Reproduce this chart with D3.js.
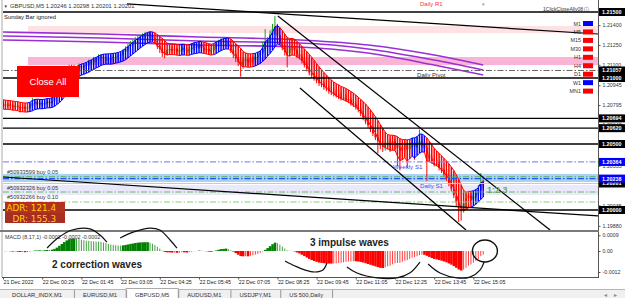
<!DOCTYPE html>
<html>
<head>
<meta charset="utf-8">
<script src="https://cdn.jsdelivr.net/npm/d3@7"></script>
<style>
  body { margin: 0; background: #fff; }
  svg { display: block; font-family: "Liberation Sans", Arial, sans-serif; }
</style>
</head>
<body>
<div id="chart"></div>
<script>
// prices are in pips above 1.20000, one entry per 5 minute bar (21 Dec 23:05 -> 22 Dec 15:25)
const closes = [
  80,79,80,79,78,79,78,77,78,77,78,79,
  81,82,80,81,80,81,82,81,83,
  86,90,95,99,
  103,106,108,107,108,107,109,108,
  109,110,112,112,114,114,116,116,
  115,115,114,115,116,116,117,118,
  120,122,124,126,127,129,130,131,
  132,133,134,132,130,128,
  124,122,119,118,121,122,
  121,122,120,121,123,121,120,122,123,
  124,123,125,123,121,122,120,121,
  124,126,127,128,127,128,125,
  121,118,115,112,110,
  113,114,112,115,114,116,117,
  119,122,126,129,133,137,139,132,
  127,123,120,119,123,124,121,118,
  116,113,110,107,104,102,100,98,
  96,95,93,92,90,89,88,87,
  86,85,85,84,83,81,80,78,
  76,73,70,67,64,61,58,55,52,
  49,48,50,51,49,52,50,
  47,45,48,49,46,50,51,48,50,52,50,47,
  42,39,37,35,35,32,30,27,
  24,20,16,11,6,1,-1,5,
  9,11,8,11,13,15,21,19
];
const highs = [
  82,81,81,81,80,80,80,79,79,79,80,81,
  85,84,83,82,82,83,84,83,85,
  88,92,97,101,
  105,108,110,110,110,109,111,111,
  111,112,114,114,116,116,118,118,
  118,117,117,117,118,118,119,120,
  122,124,126,128,129,131,132,133,
  134,135,135,135,133,131,
  128,125,123,121,122,124,
  124,124,123,123,125,124,123,124,126,
  127,126,128,126,124,124,123,123,
  126,128,129,130,130,130,129,
  126,122,119,116,113,
  115,116,115,117,117,118,120,
  121,128,137,131,136,141,147,141,
  133,129,125,123,126,129,126,122,
  120,118,115,112,109,106,104,102,
  100,99,97,96,94,93,92,91,
  91,89,90,88,87,85,84,82,
  80,78,75,72,69,66,63,60,57,
  54,52,52,53,54,55,54,
  52,49,50,52,51,53,55,54,56,61,56,52,
  49,44,41,39,38,37,34,31,
  29,26,22,18,13,8,3,7,
  12,14,13,14,16,19,28,23
];
const lows = [
  78,77,78,77,76,77,76,74,76,75,76,77,
  78,80,79,79,78,79,80,79,80,
  82,85,89,94,
  98,102,104,105,105,105,105,106,
  106,107,108,110,110,112,112,114,
  113,113,112,112,113,114,114,115,
  116,118,120,122,124,125,127,128,
  129,130,131,130,129,126,
  122,119,116,115,117,120,
  119,119,118,118,120,119,118,119,121,
  121,121,122,120,119,119,118,118,
  120,122,124,125,125,125,123,
  119,115,112,109,101,
  107,110,109,110,111,112,114,
  115,118,120,124,127,131,133,130,
  125,121,117,108,117,121,118,115,
  114,111,108,105,102,100,98,96,
  94,93,91,90,88,87,86,85,
  84,83,83,82,81,79,78,76,
  74,71,68,65,62,59,56,53,43,
  46,44,45,46,44,47,46,
  33,30,41,45,32,45,47,38,47,49,48,45,
  22,37,35,33,33,30,28,25,
  22,18,14,9,3,-9,-8,-2,
  3,6,5,7,9,12,14,16
];

const timeTickBars = [0,16,32,48,64,80,96,112,128,144,160,176,192];
const timeLabels = ["21 Dec 2022","22 Dec 00:25","22 Dec 01:45","22 Dec 03:05","22 Dec 04:25","22 Dec 05:45",
  "22 Dec 07:05","22 Dec 08:25","22 Dec 09:45","22 Dec 11:05","22 Dec 12:25","22 Dec 13:45","22 Dec 15:05"];

// three purple moving averages, sampled at these bars
const maBars = [0, 40, 80, 121, 149, 176, 196];
const maUpper = [1.21348, 1.21333, 1.21311, 1.21288, 1.21250, 1.21174, 1.21098];
const maMiddle = [1.21318, 1.21303, 1.21280, 1.21265, 1.21220, 1.21136, 1.21061];
const maLower = [1.21288, 1.21273, 1.21250, 1.21235, 1.21189, 1.21098, 1.21023];

// trend lines: [bar, price] -> [bar, price]
const trendLines = [
  [[50.6, 1.21561], [243, 1.21333]],
  [[0, 1.20250], [243, 1.19955]],
  [[112.2, 1.21470], [223.3, 1.19848]],
  [[121.2, 1.20924], [189, 1.19848]]
];

const blackLevels = [1.21500, 1.21000, 1.20694, 1.20620, 1.20500, 1.20000];
const pivotLevel = 1.21057;
const weeklyS1 = 1.20364;
const dailyS1 = 1.20238;
const bidLevel = 1.20201;
const orderPrices = [1.20252, 1.20136, 1.20061];
const orderLabels = ["#50933599 buy 0.05", "#50932326 buy 0.05", "#50932266 buy 0.10"];
const pinkZones = [[1.21394, 1.21341], [1.21159, 1.21098]];
const blueZone = [1.20273, 1.20212];
const lavenderZone = [1.20189, 1.20114];
const zoneStartBar = 10.2;

const priceTicks = [1.21400, 1.21250, 1.21100, 1.20945, 1.20795, 1.20648, 1.20335, 1.20035, 1.19880];
const blackBoxes = [1.21500, 1.21057, 1.21000, 1.20694, 1.20620, 1.20500, 1.20201, 1.20000];
const blueBoxes = [1.20364, 1.20238];
const macdTicks = [0.0009, 0, -0.0012];
const macdTickLabels = ["0.0009", "0.00", "-0.0012"];

const tfNames = ["M1","M5","M15","M30","H1","H4","D1","W1","MN1"];
const tfUp = [true,false,false,false,false,false,false,true,false];

const tabNames = ["DOLLAR_INDX,M1","EURUSD,M1","GBPUSD,M5","AUDUSD,M1","USDJPY,M1","US 500,Daily"];
const activeTab = 2;

// hand drawn wave marks on the MACD window: [bar, macd value]
const arcA = [[18,0.00017],[22.4,0.00074],[28.2,0.0012],[35.5,0.00126],[39.6,0.00091],[42.4,0.00051]];
const arcB = [[47.8,0.00074],[53.4,0.00109],[60,0.00131],[64,0.0012],[68.2,0.00063],[71,0.00017]];
const arcC = [[115.1,-0.00057],[119.2,-0.00086],[123.3,-0.00109],[127.3,-0.0012],[130.6,-0.00109],[132.2,-0.00069]];
const arcD = [[140.4,-0.00091],[144.5,-0.00126],[152.7,-0.00154],[160.8,-0.00154],[166,-0.00126],[170.2,-0.00063]];
const arcE = [[173.5,-0.00074],[178.4,-0.00126],[185.3,-0.00154],[190.6,-0.00149],[194.7,-0.00109],[196.4,-0.00063]];
const circleMark = [196.7, 0];

/*********************** Setup *********************/
var W = 625, H = 298;
var plotLeft = 3, plotRight = 598;
var mainBottom = 230, macdTop = 232, macdBottom = 277;
var barStep = 2.45;
var ribbonPad = 2;

var price = function (p) { return 1.2 + p / 10000; };

var x = d3.scaleLinear().domain([0, 1]).range([plotLeft, plotLeft + barStep]);
var y = d3.scaleLinear().domain([1.2, 1.215]).range([210, 12]);
var yM = d3.scaleLinear().domain([-0.0012, 0.0009]).range([272, 235.25]);

function ema(arr, n) {
  var k = 2 / (n + 1), out = [];
  arr.forEach(function (v, i) { out.push(i ? out[i - 1] + k * (v - out[i - 1]) : v); });
  return out;
}

var bars = closes.map(function (c, i) {
  var o = i ? closes[i - 1] : c;
  return { i: i, o: o, c: c, h: Math.max(highs[i], o, c), l: Math.min(lows[i], o, c) };
});

// heiken ashi smoothed ribbon
var sO = ema(bars.map(d => d.o), 6), sH = ema(bars.map(d => d.h), 6),
    sL = ema(bars.map(d => d.l), 6), sC = ema(bars.map(d => d.c), 6);
var haC = sO.map((o, i) => (o + sH[i] + sL[i] + sC[i]) / 4);
var haO = [];
haC.forEach(function (c, i) { haO.push(i ? (haO[i - 1] + haC[i - 1]) / 2 : (sO[0] + sC[0]) / 2); });
var ribbon = bars.map(function (d, i) {
  return { i: i, top: Math.max(sH[i], haO[i]), bot: Math.min(sL[i], haO[i]), up: haC[i] >= haO[i] };
});

// MACD (8,17,1)
var e8 = ema(closes.map(price), 8), e17 = ema(closes.map(price), 17);
var macd = e8.map((v, i) => v - e17[i]);
var strongBar = macd.map((d, i) => i === 0 ? true : (d >= 0 ? d >= macd[i - 1] : d < macd[i - 1]));

var svg = d3.select("#chart").append("svg")
  .attr("width", W).attr("height", H);

svg.append("rect").attr("width", W).attr("height", H).attr("fill", "#fff");

var defs = svg.append("defs");
defs.append("clipPath").attr("id", "clipMain").append("rect")
  .attr("x", plotLeft).attr("y", 0).attr("width", plotRight - plotLeft).attr("height", mainBottom);
defs.append("clipPath").attr("id", "clipMacd").append("rect")
  .attr("x", plotLeft).attr("y", macdTop).attr("width", plotRight - plotLeft).attr("height", macdBottom - macdTop);

var main = svg.append("g").attr("clip-path", "url(#clipMain)");

/*********************** Zones *********************/
var zoneColors = ["#fde1e3", "#f8b5d6"];
pinkZones.forEach(function (z, k) {
  main.append("rect")
    .attr("x", x(zoneStartBar)).attr("y", y(z[0]))
    .attr("width", plotRight - x(zoneStartBar)).attr("height", y(z[1]) - y(z[0]))
    .attr("fill", zoneColors[k]);
});
main.append("rect")
  .attr("x", plotLeft).attr("y", y(blueZone[0]))
  .attr("width", plotRight - plotLeft).attr("height", y(blueZone[1]) - y(blueZone[0]))
  .attr("fill", "#a9d3f5");
main.append("rect")
  .attr("x", plotLeft).attr("y", y(lavenderZone[0]))
  .attr("width", plotRight - plotLeft).attr("height", y(lavenderZone[1]) - y(lavenderZone[0]))
  .attr("fill", "#e9e9fb");

/*********************** MAs *********************/
var maLine = d3.line().x((d, k) => x(maBars[k])).y(d => y(d)).curve(d3.curveMonotoneX);
[maUpper, maMiddle, maLower].forEach(function (arr) {
  main.append("path").datum(arr).attr("d", maLine)
    .attr("fill", "none").attr("stroke", "#9a2fd6").attr("stroke-width", 1.6);
});

/*********************** Candles *********************/
var candle = main.append("g");
candle.selectAll("line.wick").data(bars).enter().append("line")
  .attr("x1", d => x(d.i)).attr("x2", d => x(d.i))
  .attr("y1", d => y(price(d.h))).attr("y2", d => y(price(d.l)))
  .attr("stroke", d => d.c >= d.o ? "#1e9e1e" : "#ff0000").attr("stroke-width", 1);
candle.selectAll("rect").data(bars).enter().append("rect")
  .attr("x", d => x(d.i) - 0.9).attr("width", 1.8)
  .attr("y", d => y(price(Math.max(d.o, d.c))))
  .attr("height", d => Math.max(0.8, y(price(Math.min(d.o, d.c))) - y(price(Math.max(d.o, d.c)))))
  .attr("fill", d => d.c >= d.o ? "#1e9e1e" : "#ff0000");

/*********************** Ribbon *********************/
var rib = main.append("g");
rib.selectAll("line").data(ribbon).enter().append("line")
  .attr("x1", d => x(d.i)).attr("x2", d => x(d.i))
  .attr("y1", d => y(price(d.top)) - ribbonPad).attr("y2", d => y(price(d.bot)) + ribbonPad)
  .attr("stroke", d => d.up ? "#0000ff" : "#ff0000").attr("stroke-width", 1.5);
ribbon.slice(1).forEach(function (d) {
  var p = ribbon[d.i - 1], col = d.up ? "#0000ff" : "#ff0000";
  rib.append("line").attr("x1", x(p.i)).attr("x2", x(d.i))
    .attr("y1", y(price(p.top)) - ribbonPad).attr("y2", y(price(d.top)) - ribbonPad).attr("stroke", col).attr("stroke-width", 1);
  rib.append("line").attr("x1", x(p.i)).attr("x2", x(d.i))
    .attr("y1", y(price(p.bot)) + ribbonPad).attr("y2", y(price(d.bot)) + ribbonPad).attr("stroke", col).attr("stroke-width", 1);
});

/*********************** Levels *********************/
function hline(p, color, dash, w) {
  main.append("line").attr("x1", plotLeft).attr("x2", plotRight)
    .attr("y1", y(p)).attr("y2", y(p))
    .attr("stroke", color).attr("stroke-width", w || 1)
    .attr("stroke-dasharray", dash || null);
}
blackLevels.forEach(p => hline(p, "#000", null, 1.3));
hline(pivotLevel, "#666", "6,2,1.5,2", 1);
hline(weeklyS1, "#8f8ff5", "6,2,1.5,2", 1.2);
hline(bidLevel, "#c8c8c8", null, 1);
hline(orderPrices[0], "#55b055", "6,2,1.5,2", 1.2);
hline(dailyS1, "#2255ff", "6,2,1.5,2", 1.2);
hline(orderPrices[1], "#66bb66", "6,2,1.5,2", 1.1);
hline(orderPrices[2], "#88cc88", "6,2,1.5,2", 1.1);

/*********************** Trend lines *********************/
trendLines.forEach(function (t) {
  main.append("line")
    .attr("x1", x(t[0][0])).attr("y1", y(t[0][1]))
    .attr("x2", x(t[1][0])).attr("y2", y(t[1][1]))
    .attr("stroke", "#000").attr("stroke-width", 1.2);
});

/*********************** Labels on chart *********************/
function txt(g, tx, ty, s, size, color, extra) {
  var t = g.append("text").attr("x", tx).attr("y", ty).text(s)
    .style("font-size", size + "px").attr("fill", color);
  if (extra) extra(t);
  return t;
}
txt(svg, x(169), y(pivotLevel) + 6.5, "Daily Pivot", 6, "#333");
txt(svg, x(159.2), y(weeklyS1) + 7, "Weekly S1", 6.2, "#3a4ee8");
txt(svg, x(170.2), y(dailyS1) + 9, "Daily S1", 6.2, "#3a4ee8");
txt(svg, x(197.6), y(orderPrices[1]) + 1, "1:2.3", 9, "#66aa66", t => t.style("font-weight", "bold"));
orderLabels.forEach(function (s, k) {
  txt(svg, 7, y(orderPrices[k]) - 2.5, s, 5.6, "#333");
});

// Close All button
svg.append("rect").attr("x", 17).attr("y", 66).attr("width", 62).attr("height", 31).attr("fill", "#ff0000");
txt(svg, 48, 85, "Close All", 9.5, "#fff", t => t.attr("text-anchor", "middle"));

// ADR box
svg.append("rect").attr("x", 5).attr("y", 202).attr("width", 60).attr("height", 11).attr("fill", "#b3321f");
svg.append("rect").attr("x", 5).attr("y", 213).attr("width", 60).attr("height", 10).attr("fill", "#a52d22");
txt(svg, 56, 211, "ADR: 121.4", 8.8, "#ffd200", t => t.attr("text-anchor", "end").style("font-family", "DejaVu Sans"));
txt(svg, 56, 221.5, "DR: 155.3", 8.8, "#ffd200", t => t.attr("text-anchor", "end").style("font-family", "DejaVu Sans"));

/*********************** Header *********************/
txt(svg, 3.5, 8, "\u25BC", 4.5, "#444");
txt(svg, 10, 8, "GBPUSD,M5  1.20246 1.20298 1.20201 1.20201", 5.8, "#333");
txt(svg, 4, 19, "Sunday Bar ignored", 5.9, "#222");
txt(svg, 420, 6, "Daily R1", 6, "#ff3030");
txt(svg, 481, 6, "\u25BC", 4.5, "#999");
txt(svg, 543, 10.5, "1ClickCloseAllv08 \u24D8", 5, "#333");

// timeframe legend
tfNames.forEach(function (s, k) {
  var ty = 23.5 + k * 8.45;
  txt(svg, 581, ty + 2, s, 5.4, "#333", t => t.attr("text-anchor", "end"));
  svg.append("rect").attr("x", 583).attr("y", ty - 2.5).attr("width", 10).attr("height", 5)
    .attr("fill", tfUp[k] ? "#0000ff" : "#ff0000");
});

/*********************** Price axis *********************/
svg.append("line").attr("x1", plotRight + 0.5).attr("x2", plotRight + 0.5)
  .attr("y1", 0).attr("y2", macdBottom).attr("stroke", "#555");
svg.append("line").attr("x1", 2).attr("x2", 2).attr("y1", 0).attr("y2", macdBottom).attr("stroke", "#aaa");

var yAxis = d3.axisRight(y).tickValues(priceTicks).tickFormat(d3.format(".5f")).tickSize(2);
var ya = svg.append("g").attr("transform", "translate(" + (plotRight + 0.5) + ",0)").call(yAxis);
ya.select(".domain").remove();
ya.selectAll("text").style("font-size", "5.3px").attr("fill", "#333").attr("x", 4);
ya.selectAll("line").attr("stroke", "#555");

function priceBox(p, fill) {
  var g = svg.append("g").attr("transform", "translate(" + (plotRight + 1) + "," + y(p) + ")");
  g.append("rect").attr("x", 0).attr("y", -4).attr("width", 27).attr("height", 8).attr("fill", fill);
  g.append("text").attr("x", 3).attr("y", 2).attr("fill", "#fff")
    .style("font-size", "5.4px").style("font-weight", "bold").text(d3.format(".5f")(p));
}
blackBoxes.forEach(p => priceBox(p, "#000"));
blueBoxes.forEach(p => priceBox(p, "#0000ff"));

/*********************** MACD *********************/
svg.append("rect").attr("x", 0).attr("y", mainBottom).attr("width", plotRight + 1).attr("height", macdTop - mainBottom)
  .attr("fill", "#7a7a7a");
svg.append("line").attr("x1", 2).attr("x2", plotRight + 1).attr("y1", macdBottom + 0.5).attr("y2", macdBottom + 0.5)
  .attr("stroke", "#555");

var mg = svg.append("g").attr("clip-path", "url(#clipMacd)");
mg.selectAll("rect").data(macd).enter().append("rect")
  .attr("x", (d, i) => x(i) - (strongBar[i] ? barStep / 2 : 0.5))
  .attr("width", (d, i) => strongBar[i] ? barStep + 0.1 : 1)
  .attr("y", d => Math.min(yM(d), yM(0)))
  .attr("height", d => Math.abs(yM(d) - yM(0)))
  .attr("fill", d => d >= 0 ? "#008000" : "#ff0000")
  .attr("opacity", (d, i) => strongBar[i] ? 1 : 0.75);

var ym = svg.append("g").attr("transform", "translate(" + (plotRight + 0.5) + ",0)")
  .call(d3.axisRight(yM).tickValues(macdTicks).tickFormat((d, k) => macdTickLabels[k]).tickSize(2));
ym.select(".domain").remove();
ym.selectAll("text").style("font-size", "5.3px").attr("fill", "#333").attr("x", 4);
ym.selectAll("line").attr("stroke", "#555");

txt(svg, 5, 239, "MACD (8,17,1) -0.0002 -0.0002 -0.0002", 5.4, "#333");

// wave annotations
var arcLine = d3.line().x(d => x(d[0])).y(d => yM(d[1])).curve(d3.curveCatmullRom);
[arcA, arcB, arcC, arcD, arcE].forEach(function (a) {
  svg.append("path").datum(a).attr("d", arcLine)
    .attr("fill", "none").attr("stroke", "#111").attr("stroke-width", 1.2);
});
svg.append("ellipse").attr("cx", x(circleMark[0])).attr("cy", yM(circleMark[1]))
  .attr("rx", 12.5).attr("ry", 11).attr("fill", "none").attr("stroke", "#111").attr("stroke-width", 1.4);

txt(svg, 52, 268, "2 correction waves", 10, "#222", t => t.style("font-weight", "bold"));
txt(svg, 310, 246, "3 impulse waves", 10, "#222", t => t.style("font-weight", "bold"));

/*********************** Time axis *********************/
var xAxis = d3.axisBottom(x).tickValues(timeTickBars).tickFormat((d, k) => timeLabels[k]).tickSize(2);
var xa = svg.append("g").attr("transform", "translate(0," + (macdBottom + 0.5) + ")").call(xAxis);
xa.select(".domain").remove();
xa.selectAll("text").style("font-size", "5.3px").attr("fill", "#222")
  .attr("text-anchor", "start").attr("y", 3).attr("dy", "0.71em").attr("x", 0);
xa.selectAll("line").attr("stroke", "#555");

/*********************** Tabs *********************/
var tabs = svg.append("g");
tabs.append("rect").attr("x", 0).attr("y", 289).attr("width", W).attr("height", 9).attr("fill", "#f0f0f0");
tabs.append("line").attr("x1", 0).attr("x2", W).attr("y1", 289.5).attr("y2", 289.5).attr("stroke", "#b5b5b5");
var tx = 0;
tabNames.forEach(function (s, k) {
  var t = tabs.append("text").attr("y", 296.5).text(s).style("font-size", "5.8px").attr("fill", "#333");
  var tw = t.node().getComputedTextLength() + (k === 0 ? 24 : 18);
  if (k === activeTab) {
    tabs.insert("rect", "text").attr("x", tx).attr("y", 288.5).attr("width", tw).attr("height", 10)
      .attr("fill", "#fff").attr("stroke", "#aaa");
  }
  t.attr("x", tx + tw / 2).attr("text-anchor", "middle");
  tx += tw;
  tabs.append("line").attr("x1", tx + 0.5).attr("x2", tx + 0.5).attr("y1", 290).attr("y2", 298).attr("stroke", "#999");
});
txt(svg, 604, 297, "\u25C2", 6, "#888");
txt(svg, 614, 297, "\u25B8", 6, "#888");
</script>
</body>
</html>
